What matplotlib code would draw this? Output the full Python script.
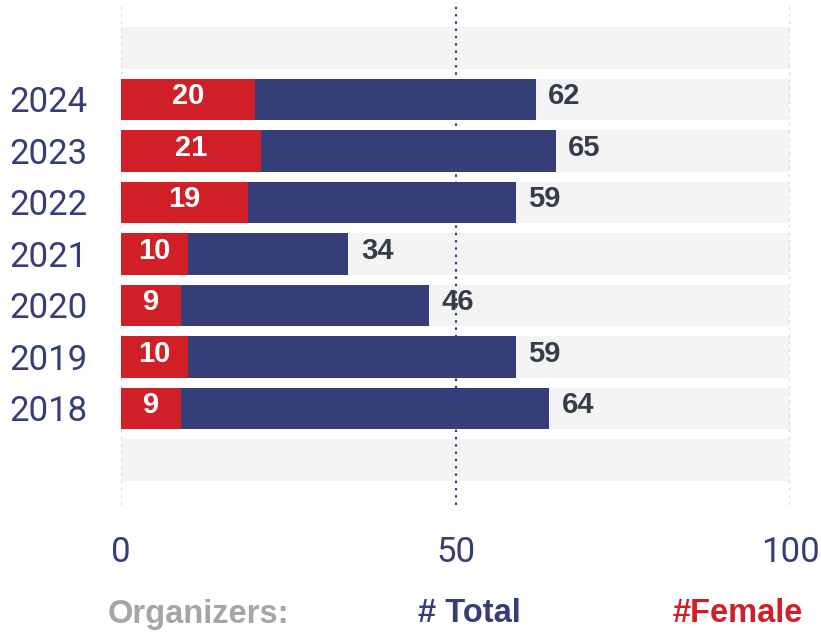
import matplotlib
matplotlib.use("Agg")
import matplotlib.pyplot as plt
from matplotlib import font_manager

years = ["2018", "2019", "2020", "2021", "2022", "2023", "2024"]
total = [64, 59, 46, 34, 59, 65, 62]
female = [9, 10, 9, 10, 19, 21, 20]
xticks = [0, 50, 100]

NAVY = "#353e78"
RED = "#d11f27"
BAND = "#f4f4f4"
LABEL = "#363d4a"
GRAY = "#a6a6a6"

names = {f.name for f in font_manager.fontManager.ttflist}
tick_family = "Liberation Sans Narrow" if "Liberation Sans Narrow" in names else "Roboto"
bold_family = "Liberation Sans"

W, H = 821, 636
fig = plt.figure(figsize=(W / 100, H / 100), dpi=100)
ax = fig.add_axes([121 / W, 1 - 505 / H, (790 - 121) / W, 500 / H])
ax.set_xlim(0, 100)
ax.set_ylim(-1.874, 7.835)

n = len(years)
rows = list(range(-1, n + 1))
ax.barh(rows, [100] * len(rows), height=0.8, color=BAND, zorder=1)

ypos = list(range(n))
ax.barh(ypos, total, height=0.8, color=NAVY, zorder=3)
ax.barh(ypos, female, height=0.8, color=RED, zorder=4)

for x in xticks:
    if x == 50:
        ax.axvline(x, color=NAVY, lw=1.5, ls=(0, (1.2, 2.3)), zorder=2)
    else:
        ax.axvline(x, color="#d4d4d4", lw=1.5, ls=(0, (1.2, 2.3)), zorder=2)

for y, t, f in zip(ypos, total, female):
    ax.annotate(str(t), (t, y + 0.06), xytext=(9, 0), textcoords="offset points",
                ha="left", va="center", fontsize=21, fontweight="bold",
                color=LABEL, family=bold_family, zorder=5)
    ax.text(f / 2, y + 0.06, str(f), ha="center", va="center", fontsize=21,
            fontweight="bold", color="white", family=bold_family, zorder=5)

ax.set_yticks(ypos)
ax.set_yticklabels(years)
ax.set_xticks(xticks)
ax.set_xticklabels([str(v) for v in xticks])
for lab in ax.get_yticklabels() + ax.get_xticklabels():
    lab.set_family(tick_family)
    lab.set_fontsize(25)
    lab.set_color(NAVY)
    lab.set_fontweight("normal")
ax.tick_params(axis="both", length=0)
ax.tick_params(axis="y", pad=24)
ax.tick_params(axis="x", pad=22)
for s in ax.spines.values():
    s.set_visible(False)

fig.text(108 / W, 1 - 614 / H, "Organizers:", ha="left", va="center",
         fontsize=23.5, fontweight="bold", color=GRAY, family=bold_family)
fig.text(418 / W, 1 - 614 / H, "# Total", ha="left", va="center",
         fontsize=23.5, fontweight="bold", color=NAVY, family=bold_family)
fig.text(803 / W, 1 - 614 / H, "#Female", ha="right", va="center",
         fontsize=23.5, fontweight="bold", color=RED, family=bold_family)

fig.savefig("out.png", dpi=100)
